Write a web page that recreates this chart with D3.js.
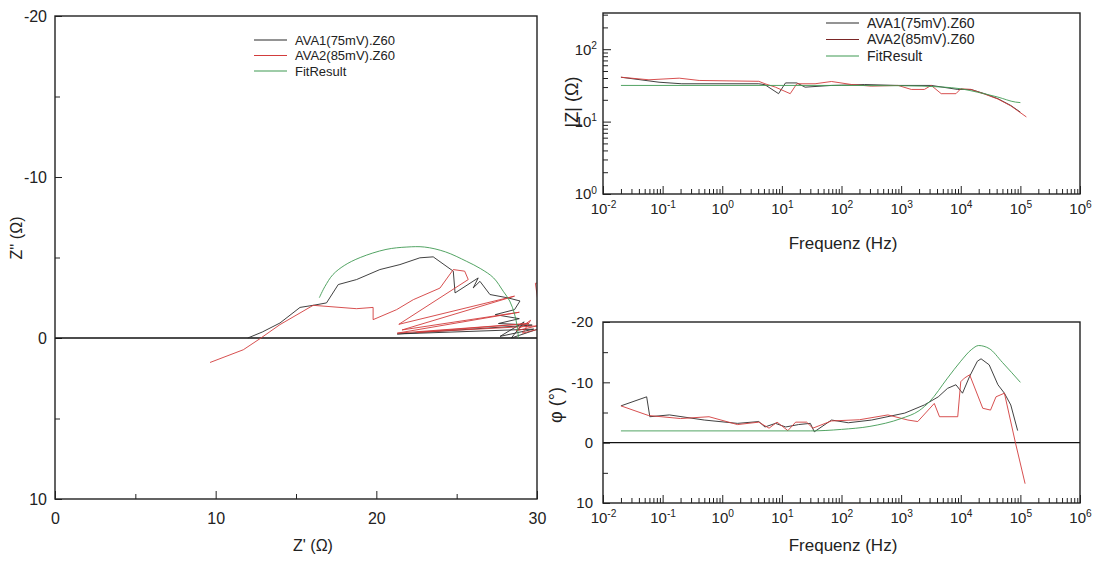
<!DOCTYPE html>
<html>
<head>
<meta charset="utf-8">
<script src="https://cdn.jsdelivr.net/npm/d3@7"></script>
<style>
  body { margin: 0; background: #fff; }
  svg { display: block; font-family: "Liberation Sans", Arial, sans-serif; }
</style>
</head>
<body>
<svg id="chart"></svg>
<script>
// Nyquist data: [Z' (Ohm), Z'' (Ohm)]
const nyqAVA1 = [
  [12.0, 0.0], [12.9, -0.37], [14.0, -0.93], [15.25, -1.9], [16.07, -2.03], [16.9, -2.18],
  [17.63, -3.32], [18.77, -3.63], [20.22, -4.25], [21.47, -4.56], [22.71, -4.98], [23.54, -5.04],
  [24.79, -4.15], [24.9, -2.8], [26.34, -3.73], [26.03, -3.11], [26.45, -3.52], [27.07, -2.7],
  [28.2, -2.49], [28.94, -2.3], [28.6, -1.76], [27.4, -1.45], [28.9, -1.2], [27.6, -0.9],
  [29.7, -0.8], [21.3, -0.25], [29.8, -0.55], [27.7, -0.1], [29.2, -1.0], [28.4, 0.0], [30.5, -0.7]
];
const nyqAVA2 = [
  [9.65, 1.52], [11.72, 0.73], [12.76, 0.04], [14.0, -0.83], [16.07, -2.03], [18.77, -1.82],
  [19.8, -1.9], [19.8, -1.14], [21.26, -1.76], [22.3, -2.38], [23.96, -3.1], [24.79, -4.25],
  [25.5, -4.15], [25.72, -3.63], [21.4, -0.85], [28.6, -2.6], [21.6, -0.5], [28.9, -1.6],
  [21.3, -0.3], [29.5, -0.9], [22.5, -0.35], [30.0, -0.75], [28.7, -0.45], [29.6, -1.1],
  [29.1, -0.3], [30.3, -0.6], [29.9, -3.4], [31.0, -3.5]
];
const nyqFit = [
  [16.45, -2.5], [16.8, -3.2], [17.3, -3.94], [18.0, -4.5], [19.0, -5.0], [20.6, -5.5],
  [21.9, -5.65], [23.0, -5.65], [24.3, -5.35], [25.6, -4.77], [26.5, -4.3], [27.3, -3.73],
  [27.9, -2.9], [28.3, -2.3], [28.6, -1.5], [28.75, -0.8], [28.85, 0.0]
];

// Bode |Z|: [f (Hz), |Z| (Ohm)]
const magAVA1 = [
  [0.02, 41], [0.087, 35], [0.21, 33.3], [4.1, 33.3], [5.2, 32.3], [8.8, 24.3], [11.5, 34.2],
  [17.8, 34.2], [24.5, 29.9], [68, 31.6], [245, 32.5], [890, 31.6], [3200, 31.6], [8900, 27.8],
  [14800, 27.8], [25000, 24.3], [42000, 20.7], [69000, 16.7], [100000, 13.5]
];
const magAVA2 = [
  [0.02, 41], [0.059, 37.8], [0.19, 39.8], [0.41, 37], [4.1, 36], [5.2, 33.3], [7.8, 29.9],
  [13.8, 24.3], [17.8, 33.3], [36, 33.3], [68, 35.8], [148, 32.5], [316, 30.9], [890, 31.6],
  [1480, 27.8], [2450, 27.8], [3200, 31.6], [4700, 24.3], [8300, 24.3], [10000, 28.4],
  [14800, 27.8], [25000, 24], [42000, 20.5], [69000, 16.5], [126000, 11.6]
];
const magFit = [
  [0.02, 31.6], [100, 31.6], [1000, 31.3], [5000, 30], [10000, 28.4], [19000, 25.5],
  [42000, 21.8], [83000, 18.6], [100000, 18.3]
];

// Bode phase: [f (Hz), phi (deg)]
const phaAVA1 = [
  [0.02, -6.1], [0.054, -7.6], [0.061, -4.3], [0.13, -4.6], [0.5, -3.75], [1.8, -3.2], [4.1, -3.5],
  [5.2, -2.6], [7.8, -3.2], [11.6, -2.6], [19, -3.0], [30, -3.2], [35, -1.8], [68, -3.75],
  [130, -3.3], [320, -3.75], [1150, -4.9], [2450, -6.25], [4200, -7.6], [6000, -9.0], [8300, -9.6],
  [10700, -8.2], [14100, -11.0], [19000, -13.5], [21900, -13.9], [30000, -12.9], [42000, -9.6],
  [54000, -8.2], [69000, -6.25], [90000, -2.0]
];
const phaAVA2 = [
  [0.02, -6.1], [0.058, -4.5], [0.2, -4.0], [0.6, -4.3], [1.8, -3.0], [4.1, -3.4], [6.1, -2.4],
  [8.3, -3.4], [12.6, -2.0], [17, -3.4], [26, -3.4], [33, -2.4], [68, -3.6], [200, -3.8],
  [600, -4.6], [1300, -3.75], [1900, -3.5], [3600, -6.5], [4400, -4.3], [8900, -4.3],
  [10000, -10.1], [11500, -10.7], [14100, -11.25], [23400, -5.7], [31600, -5.4], [39000, -7.6],
  [54000, -8.2], [83000, 0.1], [120000, 6.8]
];
const phaFit = [
  [0.02, -1.95], [30, -1.95], [100, -2.2], [300, -2.7], [1000, -4.0], [2000, -5.3], [3000, -6.8],
  [6000, -10.7], [10000, -13.5], [15000, -15.4], [20000, -16.1], [30000, -15.6], [50000, -13.3],
  [100000, -10.0]
];

const seriesNames = ["AVA1(75mV).Z60", "AVA2(85mV).Z60", "FitResult"];
const seriesColors = ["#2b2b2b", "#d23c3c", "#3f9a52"];

const nyqXTicks = [0, 10, 20, 30];
const nyqXMinor = [5, 15, 25];
const nyqYTicks = [-20, -10, 0, 10];
const nyqYMinor = [-15, -5, 5];
const freqTicks = [1e-2, 1e-1, 1e0, 1e1, 1e2, 1e3, 1e4, 1e5, 1e6];
const magTicks = [1, 10, 100];

const svgWidth = 1096;
const svgHeight = 566;
const svg = d3.select("#chart").attr("width", svgWidth).attr("height", svgHeight);

// panel frames
const nyqBox = { x0: 55, x1: 537, y0: 16, y1: 499 };
const magBox = { x0: 603, x1: 1080, y0: 13, y1: 194 };
const phaBox = { x0: 603, x1: 1080, y0: 322, y1: 503 };

const xNyq = d3.scaleLinear().domain([0, 30]).range([nyqBox.x0, nyqBox.x1]);
const yNyq = d3.scaleLinear().domain([-20, 10]).range([nyqBox.y0, nyqBox.y1]);
const xFreq = d3.scaleLog().domain([1e-2, 1e6]).range([magBox.x0, magBox.x1]);
const yMag = d3.scaleLog().domain([1, Math.pow(10, 2.5)]).range([magBox.y1, magBox.y0]);
const yPha = d3.scaleLinear().domain([-20, 10]).range([phaBox.y0, phaBox.y1]);

// plain hyphen minus like the original, not the unicode minus
const plain = d => String(d);

// minor ticks for log axes (2..9 in each decade)
function logMinor(lo, hi) {
  const out = [];
  for (let e = lo; e < hi; e++) {
    for (let m = 2; m <= 9; m++) out.push(m * Math.pow(10, e));
  }
  return out;
}
const freqMinor = logMinor(-2, 6);
const magMinor = logMinor(0, 3).filter(v => v <= Math.pow(10, 2.5));

const defs = svg.append("defs");
[["clipNyq", nyqBox], ["clipMag", magBox], ["clipPha", phaBox]].forEach(([id, b]) => {
  defs.append("clipPath").attr("id", id)
    .append("rect")
    .attr("x", b.x0).attr("y", b.y0)
    .attr("width", b.x1 - b.x0).attr("height", b.y1 - b.y0);
});

function styleAxis(g, size) {
  g.select(".domain").remove();
  g.selectAll(".tick line").attr("stroke", "#222").attr("stroke-width", 1);
  g.selectAll(".tick text").attr("fill", "#222").attr("font-size", size)
    .attr("font-family", "Liberation Sans, Arial, sans-serif");
}

function powLabels(g) {
  g.selectAll(".tick text").each(function (d) {
    const t = d3.select(this);
    t.text("10");
    t.append("tspan").attr("dy", "-0.55em").attr("font-size", "0.68em")
      .text(String(Math.round(Math.log10(d))));
  });
}

// ---------- Nyquist panel ----------
svg.append("g").attr("transform", `translate(0,${nyqBox.y1})`)
  .call(d3.axisBottom(xNyq).tickValues(nyqXMinor).tickSize(-5).tickFormat(""))
  .call(g => styleAxis(g, 16));
svg.append("g").attr("transform", `translate(0,${nyqBox.y1})`)
  .call(d3.axisBottom(xNyq).tickValues(nyqXTicks).tickSize(-8).tickPadding(14).tickFormat(plain))
  .call(g => styleAxis(g, 16));
svg.append("g").attr("transform", `translate(${nyqBox.x0},0)`)
  .call(d3.axisLeft(yNyq).tickValues(nyqYMinor).tickSize(-5).tickFormat(""))
  .call(g => styleAxis(g, 16));
svg.append("g").attr("transform", `translate(${nyqBox.x0},0)`)
  .call(d3.axisLeft(yNyq).tickValues(nyqYTicks).tickSize(-7).tickPadding(8).tickFormat(plain))
  .call(g => styleAxis(g, 16));

svg.append("line")
  .attr("x1", nyqBox.x0).attr("x2", nyqBox.x1)
  .attr("y1", yNyq(0)).attr("y2", yNyq(0))
  .attr("stroke", "#111").attr("stroke-width", 1.4);

const nyqLine = d3.line().x(d => xNyq(d[0])).y(d => yNyq(d[1]));
const nyqG = svg.append("g").attr("clip-path", "url(#clipNyq)");
[nyqAVA1, nyqAVA2].forEach((data, i) => {
  nyqG.append("path").datum(data)
    .attr("d", nyqLine)
    .attr("fill", "none")
    .attr("stroke", seriesColors[i])
    .attr("stroke-width", 0.9);
});
nyqG.append("path").datum(nyqFit)
  .attr("d", nyqLine.curve(d3.curveCatmullRom))
  .attr("fill", "none")
  .attr("stroke", seriesColors[2])
  .attr("stroke-width", 0.9);

svg.append("rect")
  .attr("x", nyqBox.x0).attr("y", nyqBox.y0)
  .attr("width", nyqBox.x1 - nyqBox.x0).attr("height", nyqBox.y1 - nyqBox.y0)
  .attr("fill", "none").attr("stroke", "#222").attr("stroke-width", 1.4);

svg.append("text")
  .attr("x", 313).attr("y", 551)
  .attr("text-anchor", "middle").attr("font-size", 16).attr("fill", "#222")
  .text("Z' (Ω)");
svg.append("text")
  .attr("transform", "translate(22,238) rotate(-90)")
  .attr("text-anchor", "middle").attr("font-size", 16).attr("fill", "#222")
  .text("Z'' (Ω)");

// ---------- legend helper ----------
function drawLegend(x, y, step, fontSize, colors) {
  const lg = svg.append("g").attr("transform", `translate(${x},${y})`);
  seriesNames.forEach((name, i) => {
    lg.append("line")
      .attr("x1", 0).attr("x2", 33)
      .attr("y1", i * step).attr("y2", i * step)
      .attr("stroke", colors[i]).attr("stroke-width", 1.2);
    lg.append("text")
      .attr("x", 41).attr("y", i * step)
      .attr("dy", "0.35em")
      .attr("font-size", fontSize).attr("fill", "#222")
      .text(name);
  });
}
drawLegend(254, 40, 15.5, 13, seriesColors);

// ---------- |Z| panel ----------
svg.append("g").attr("transform", `translate(0,${magBox.y1})`)
  .call(d3.axisBottom(xFreq).tickValues(freqMinor).tickSize(-5).tickFormat(""))
  .call(g => styleAxis(g, 15));
svg.append("g").attr("transform", `translate(0,${magBox.y1})`)
  .call(d3.axisBottom(xFreq).tickValues(freqTicks).tickSize(-8).tickPadding(9))
  .call(g => styleAxis(g, 15))
  .call(powLabels);
svg.append("g").attr("transform", `translate(${magBox.x0},0)`)
  .call(d3.axisLeft(yMag).tickValues(magMinor).tickSize(-5).tickFormat(""))
  .call(g => styleAxis(g, 15));
svg.append("g").attr("transform", `translate(${magBox.x0},0)`)
  .call(d3.axisLeft(yMag).tickValues(magTicks).tickSize(-8).tickPadding(6))
  .call(g => styleAxis(g, 15))
  .call(powLabels);

const magLine = d3.line().x(d => xFreq(d[0])).y(d => yMag(d[1]));
const magG = svg.append("g").attr("clip-path", "url(#clipMag)");
[magAVA1, magAVA2].forEach((data, i) => {
  magG.append("path").datum(data)
    .attr("d", magLine)
    .attr("fill", "none")
    .attr("stroke", seriesColors[i])
    .attr("stroke-width", 0.9);
});
magG.append("path").datum(magFit)
  .attr("d", magLine.curve(d3.curveMonotoneX))
  .attr("fill", "none")
  .attr("stroke", seriesColors[2])
  .attr("stroke-width", 0.9);

svg.append("rect")
  .attr("x", magBox.x0).attr("y", magBox.y0)
  .attr("width", magBox.x1 - magBox.x0).attr("height", magBox.y1 - magBox.y0)
  .attr("fill", "none").attr("stroke", "#222").attr("stroke-width", 1.4);

drawLegend(826, 23, 16.5, 14, ["#2b2b2b", "#7a2626", "#3f9a52"]);

svg.append("text")
  .attr("x", 843).attr("y", 249)
  .attr("text-anchor", "middle").attr("font-size", 17).attr("fill", "#222")
  .text("Frequenz (Hz)");
svg.append("text")
  .attr("transform", "translate(578,102) rotate(-90)")
  .attr("text-anchor", "middle").attr("font-size", 18).attr("fill", "#222")
  .text("|Z| (Ω)");

// ---------- phase panel ----------
svg.append("g").attr("transform", `translate(0,${phaBox.y1})`)
  .call(d3.axisBottom(xFreq).tickValues(freqMinor).tickSize(-5).tickFormat(""))
  .call(g => styleAxis(g, 15));
svg.append("g").attr("transform", `translate(0,${phaBox.y1})`)
  .call(d3.axisBottom(xFreq).tickValues(freqTicks).tickSize(-8).tickPadding(9))
  .call(g => styleAxis(g, 15))
  .call(powLabels);
svg.append("g").attr("transform", `translate(${phaBox.x0},0)`)
  .call(d3.axisLeft(yPha).tickValues(nyqYMinor).tickSize(-5).tickFormat(""))
  .call(g => styleAxis(g, 15));
svg.append("g").attr("transform", `translate(${phaBox.x0},0)`)
  .call(d3.axisLeft(yPha).tickValues(nyqYTicks).tickSize(-7).tickPadding(10).tickFormat(plain))
  .call(g => styleAxis(g, 15));

svg.append("line")
  .attr("x1", phaBox.x0).attr("x2", phaBox.x1)
  .attr("y1", yPha(0)).attr("y2", yPha(0))
  .attr("stroke", "#111").attr("stroke-width", 1.4);

const phaLine = d3.line().x(d => xFreq(d[0])).y(d => yPha(d[1]));
const phaG = svg.append("g").attr("clip-path", "url(#clipPha)");
[phaAVA1, phaAVA2].forEach((data, i) => {
  phaG.append("path").datum(data)
    .attr("d", phaLine)
    .attr("fill", "none")
    .attr("stroke", seriesColors[i])
    .attr("stroke-width", 0.9);
});
phaG.append("path").datum(phaFit)
  .attr("d", phaLine.curve(d3.curveMonotoneX))
  .attr("fill", "none")
  .attr("stroke", seriesColors[2])
  .attr("stroke-width", 0.9);

svg.append("rect")
  .attr("x", phaBox.x0).attr("y", phaBox.y0)
  .attr("width", phaBox.x1 - phaBox.x0).attr("height", phaBox.y1 - phaBox.y0)
  .attr("fill", "none").attr("stroke", "#222").attr("stroke-width", 1.4);

svg.append("text")
  .attr("x", 843).attr("y", 551)
  .attr("text-anchor", "middle").attr("font-size", 17).attr("fill", "#222")
  .text("Frequenz (Hz)");
svg.append("text")
  .attr("transform", "translate(562,405) rotate(-90)")
  .attr("text-anchor", "middle").attr("font-size", 18).attr("fill", "#222")
  .text("φ (°)");
</script>
</body>
</html>
